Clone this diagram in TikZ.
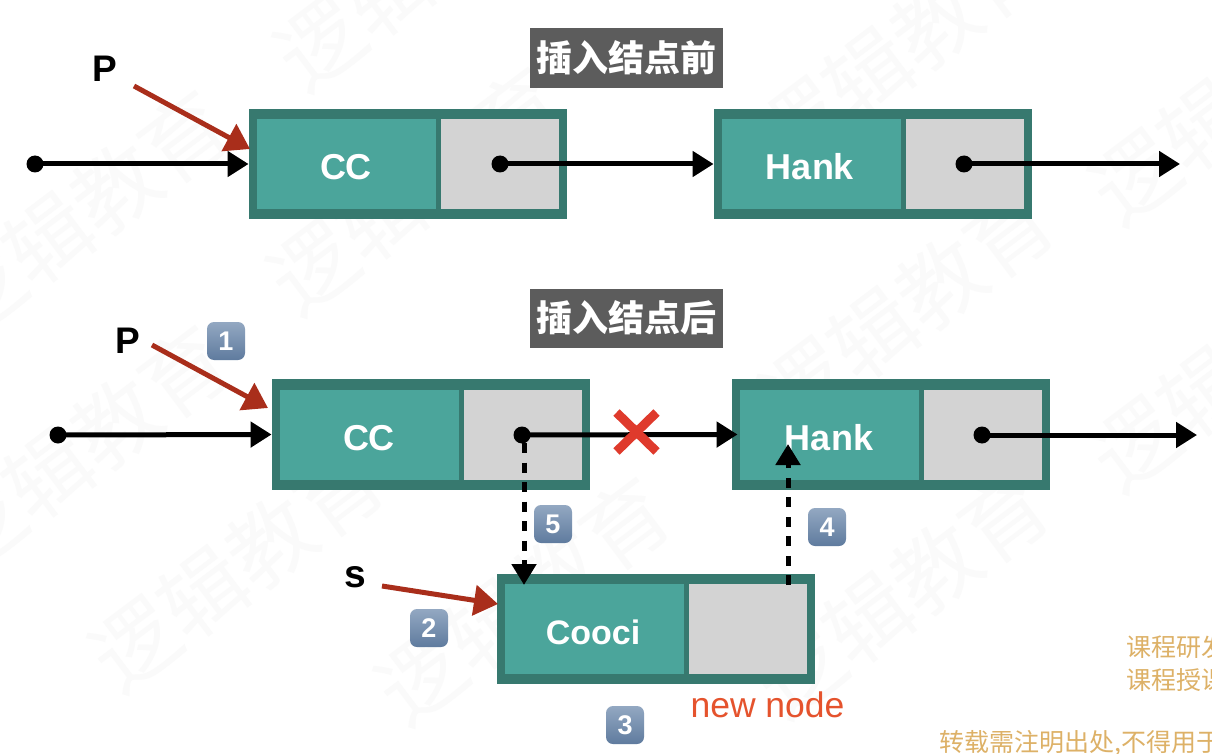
\documentclass[tikz,border=0pt]{standalone}
\usepackage{fontspec}
\setmainfont{Liberation Sans}
\newfontfamily\cjk{Noto Sans CJK SC}
\usetikzlibrary{arrows.meta,shapes.misc}
\definecolor{boxedge}{HTML}{37796F}
\definecolor{boxfill}{HTML}{4BA59B}
\definecolor{cellgray}{HTML}{D3D3D3}
\definecolor{titlegray}{HTML}{5C5C5C}
\definecolor{redarrow}{HTML}{A92E1B}
\definecolor{crossred}{HTML}{DF3A2C}
\definecolor{neworange}{HTML}{E5532D}
\definecolor{notegold}{HTML}{DDB167}
\definecolor{wmgray}{HTML}{FAFAFA}
\definecolor{badgetop}{HTML}{93A8C2}
\definecolor{badgebot}{HTML}{5F7B9E}
\tikzset{
  outerbox/.style={fill=boxedge,inner sep=0,minimum width=318.5pt,minimum height=110.5pt},
  databox/.style={fill=boxfill,inner sep=0,minimum width=179pt,minimum height=90pt},
  ptrbox/.style={fill=cellgray,inner sep=0,minimum width=118pt,minimum height=90pt},
  celltext/.style={text=white,font=\fontsize{36}{36}\selectfont\bfseries,anchor=base,inner sep=0},
  pointerlabel/.style={text=black,font=\fontsize{37}{37}\selectfont\bfseries,anchor=base,inner sep=0},
  titlebox/.style={fill=titlegray,text=white,font=\cjk\fontsize{36}{36}\selectfont\bfseries,minimum width=193pt,minimum height=60pt,inner sep=0},
  dot/.style={circle,fill=black,inner sep=0,minimum size=17pt},
  link/.style={-{Triangle[length=21pt,width=25pt]},line width=5pt,black},
  dashlink/.style={-{Triangle[length=21pt,width=24pt]},line width=5pt,black,dash pattern=on 10pt off 9.5pt},
  redlink/.style={-{Triangle[length=24pt,width=30pt]},line width=5pt,redarrow},
  badge/.style={rounded corners=7pt,top color=badgetop,bottom color=badgebot,text=white,minimum size=38pt,inner sep=0,font=\fontsize{27}{27}\selectfont\bfseries},
  notetext/.style={text=notegold,font=\cjk\fontsize{25}{25}\selectfont,anchor=base west,inner sep=0},
  wmark/.style={text=wmgray,font=\cjk\fontsize{85}{85}\selectfont,anchor=west,rotate=37,inner sep=0}
}
\newcommand{\listcell}[3]{%
  \node[outerbox] (#1) at (#2+159,#3+55) {};
  \node[databox] (#1-d) at (#2+97.5,#3+55) {};
  \node[ptrbox] (#1-p) at (#2+251,#3+55) {};
}
\begin{document}
\begin{tikzpicture}[x=1pt,y=-1pt]
\useasboundingbox (0,0) rectangle (1212,754);
\clip (0,0) rectangle (1212,754);
\fill[white] (0,0) rectangle (1212,754);
% watermark
\foreach \i/\wx/\wy in {1/-54/316,2/286/69,3/279/293,4/-54/551,5/101/670,6/387/703,7/766/696,8/771/411,9/766/151,10/1101/203,11/1101/470}
  \node[wmark] (wm\i) at (\wx,\wy) {逻辑教育};
% titles
\node[titlebox] (titleA) at (626.5,58) {插入结点前};
\node[titlebox,minimum height=59pt] (titleB) at (626.5,318) {插入结点后};
% boxes
\listcell{ccA}{249}{109}
\listcell{hankA}{714}{109}
\listcell{ccB}{272}{379.5}
\listcell{hankB}{732}{379.5}
\listcell{cooci}{497}{574}
\node[celltext] (ccAt) at (346,180) {CC};
\node[celltext] (hankAt) at (810,180) {Hank};
\node[celltext] (ccBt) at (369,450) {CC};
\node[celltext] (hankBt) at (829,450) {Hank};
\node[celltext,font=\fontsize{34}{34}\selectfont\bfseries] (coocit) at (593,644) {Cooci};
% dots
\node[dot] (startA) at (35,164) {};
\node[dot] (ptrA) at (500,164) {};
\node[dot] (ptrHA) at (964,164) {};
\node[dot] (startB) at (58,435) {};
\node[dot] (ptrB) at (522,435) {};
\node[dot] (ptrHB) at (982,435) {};
\coordinate (endA) at (1180,164);
\coordinate (endB) at (1197,435);
\coordinate (coociTop) at (524,585);
\coordinate (coociPtr) at (788,585);
\coordinate (hankIn) at (788,444);
\coordinate (ptrBdown) at (524,443);
% links
\draw[link] (startA.center) -- (ccA.west);
\draw[link] (ptrA.center) -- (hankA.west);
\draw[link] (ptrHA.center) -- (endA);
\draw[link] (startB.center) -- (ccB.west);
\draw[link,shorten >=-6pt] (ptrB.center) -- (hankB.west);
\draw[link] (ptrHB.center) -- (endB);
\draw[dashlink] (ptrBdown) -- (coociTop);
\draw[dashlink] (coociPtr) -- (hankIn);
% cross
\node[cross out,draw=crossred,line width=9pt,inner sep=0,minimum width=31pt,minimum height=30pt] (xmark) at (636.5,432) {};
% pointer labels
\node[pointerlabel] (pA) at (105,82) {P};
\node[pointerlabel] (pB) at (128,353) {P};
\node[pointerlabel,font=\fontsize{39}{39}\selectfont\bfseries] (sN) at (355,587) {s};
\coordinate (pAfrom) at (134,86);
\coordinate (pAto) at (250,149);
\coordinate (pBfrom) at (152,345);
\coordinate (pBto) at (268,408);
\coordinate (sfrom) at (382,586);
\coordinate (sto) at (498,604);
\draw[redlink] (pAfrom) -- (pAto);
\draw[redlink] (pBfrom) -- (pBto);
\draw[redlink] (sfrom) -- (sto);
% badges
\node[badge] (b1) at (226,341) {1};
\node[badge] (b2) at (429,628) {2};
\node[badge] (b3) at (625,725) {3};
\node[badge] (b4) at (827,527) {4};
\node[badge] (b5) at (553,524) {5};
% annotations
\node[text=neworange,font=\fontsize{35.5}{36}\selectfont,anchor=base,inner sep=0] (newnode) at (767.5,717) {new node};
\node[notetext] (noteA) at (1126,656) {课程研发};
\node[notetext] (noteB) at (1126,689) {课程授课};
\node[notetext] (noteC) at (939,751) {转载需注明出处,不得用于};
\end{tikzpicture}
\end{document}
